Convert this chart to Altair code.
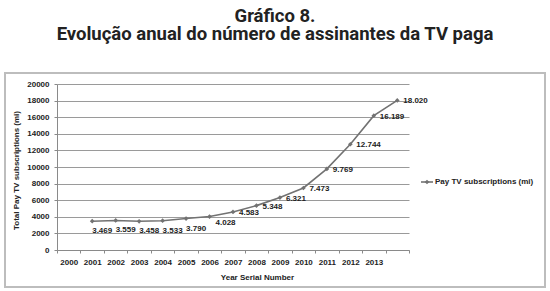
import altair as alt
import pandas as pd

# ---- data ----
axis_years = ["2000", "2001", "2002", "2003", "2004", "2005", "2006", "2007",
              "2008", "2009", "2010", "2011", "2012", "2013", "2014"]
point_years = ["2001", "2002", "2003", "2004", "2005", "2006", "2007",
               "2008", "2009", "2010", "2011", "2012", "2013", "2014"]
subscriptions = [3469, 3559, 3458, 3533, 3790, 4028, 4583,
                 5348, 6321, 7473, 9769, 12744, 16189, 18020]
value_labels = ["3.469", "3.559", "3.458", "3.533", "3.790", "4.028", "4.583",
                "5.348", "6.321", "7.473", "9.769", "12.744", "16.189", "18.020"]
below_years = ["2001", "2002", "2003", "2004", "2005"]
mid_years = ["2006"]

title_lines = ["Gráfico 8.", "Evolução anual do número de assinantes da TV paga"]
series_name = "Pay TV subscriptions (mi)"
y_title = "Total Pay TV subscriptions (mi)"
x_title = "Year Serial Number"

df = pd.DataFrame({"year": point_years, "subs": subscriptions, "label": value_labels})

LINE = "#727272"
TXT = "#222222"
LBL_FONT = "Liberation Sans"

x_enc = alt.X(
    "year:O",
    scale=alt.Scale(type="band", domain=axis_years, paddingInner=0, paddingOuter=0),
    axis=alt.Axis(
        title=x_title,
        tickBand="extent",
        labelAngle=0,
        labelExpr="datum.value == '2014' ? '' : datum.value",
        labelPadding=5,
        titleX=200,
        titleY=27,
        titleBaseline="middle",
    ),
)
y_enc = alt.Y(
    "subs:Q",
    scale=alt.Scale(domain=[0, 20000], nice=False),
    axis=alt.Axis(title=y_title, tickCount=10, format="d", grid=True,
                  titleX=-41, titleY=86, titleBaseline="middle", labelPadding=5),
)

base = alt.Chart(df)

line = base.mark_line(color=LINE, strokeWidth=1.6).encode(x=x_enc, y=y_enc)
pts = base.mark_point(shape="diamond", filled=True, color=LINE, size=22, opacity=1).encode(x=x_enc, y=y_enc)

lab_style = dict(font=LBL_FONT, fontWeight="bold", fontSize=8, color=TXT)
lab_below = base.transform_filter(
    alt.FieldOneOfPredicate(field="year", oneOf=below_years)
).mark_text(dx=0, dy=10, align="left", baseline="middle", **lab_style).encode(x=x_enc, y=y_enc, text="label:N")
lab_mid = base.transform_filter(
    alt.FieldOneOfPredicate(field="year", oneOf=mid_years)
).mark_text(dx=6, dy=6, align="left", baseline="middle", **lab_style).encode(x=x_enc, y=y_enc, text="label:N")
lab_right = base.transform_filter(
    {"not": alt.FieldOneOfPredicate(field="year", oneOf=below_years + mid_years)}
).mark_text(dx=6, dy=1, align="left", baseline="middle", **lab_style).encode(x=x_enc, y=y_enc, text="label:N")

one = alt.Data(values=[{"name": series_name}])
leg_rule = alt.Chart(one).mark_rule(color=LINE, strokeWidth=1.6).encode(
    x=alt.value(364), x2=alt.value(376), y=alt.value(98))
leg_pt = alt.Chart(one).mark_point(shape="diamond", filled=True, color=LINE, size=22, opacity=1).encode(
    x=alt.value(370), y=alt.value(98))
leg_txt = alt.Chart(one).mark_text(align="left", baseline="middle", **lab_style).encode(
    x=alt.value(378), y=alt.value(98), text="name:N")

border = alt.Chart(one).mark_rect(fill="white", fillOpacity=0, stroke="#bdbdbd", strokeWidth=2).encode(
    x=alt.value(-52), x2=alt.value(488), y=alt.value(-11), y2=alt.value(203))

chart = alt.layer(
    border, line, pts, lab_below, lab_mid, lab_right, leg_rule, leg_pt, leg_txt
).properties(
    width=352,
    height=166,
    background="white",
    autosize=alt.AutoSizeParams(type="none"),
    padding={"left": 57, "top": 84, "right": 141, "bottom": 41},
    title=alt.Title(
        title_lines,
        font="Roboto",
        fontSize=18.5,
        fontWeight="bold",
        color=TXT,
        anchor="middle",
        frame="group",
        dx=42,
        lineHeight=18,
        offset=29,
    ),
).configure_view(
    stroke=None
).configure_axis(
    labelFont=LBL_FONT,
    labelFontWeight="bold",
    labelFontSize=8,
    labelColor=TXT,
    titleFont=LBL_FONT,
    titleFontWeight="bold",
    titleFontSize=8,
    titleColor=TXT,
    domainColor="#8a8a8a",
    tickColor="#8a8a8a",
    gridColor="#9a9a9a",
    tickSize=3,
)

chart.save("out.html", embed_options={"renderer": "svg", "actions": False})
